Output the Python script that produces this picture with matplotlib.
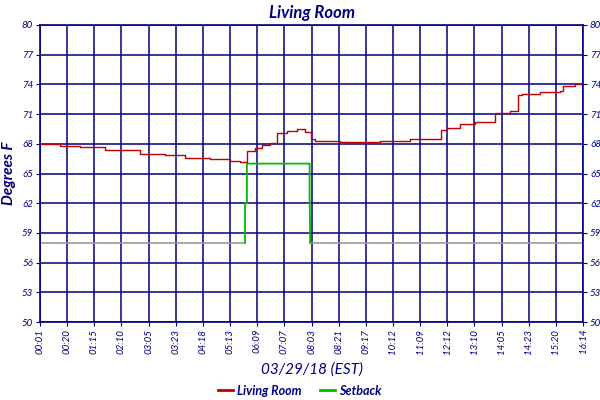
import matplotlib
matplotlib.use("Agg")
import matplotlib.pyplot as plt
from matplotlib.lines import Line2D

tick_labels = ["00:01","00:20","01:15","02:10","03:05","03:23","04:18","05:13","06:09","07:07",
               "08:03","08:21","09:17","10:12","11:09","12:12","13:10","14:05","14:23","15:20","16:14"]
room_x = [0,0.74,1.47,2.39,3.68,4.6,5.34,6.26,7.0,7.37,7.62,7.92,8.18,8.47,8.73,9.1,9.47,9.76,9.98,
          10.13,11.05,12.52,13.63,14.77,14.99,15.47,16.02,16.76,17.31,17.6,17.75,18.42,19.15,19.26,19.7,20]
room_y = [68.0,67.8,67.7,67.4,67.0,66.9,66.6,66.5,66.3,66.2,67.3,67.6,67.9,68.1,69.1,69.3,69.5,69.2,68.5,
          68.3,68.2,68.3,68.5,69.4,69.6,70.0,70.2,71.1,71.3,72.9,73.0,73.2,73.3,73.8,74.0,74.0]
setback_low_x1 = [0,7.55]
setback_low_x2 = [9.95,20]
setback_low = 58
setback_x = [7.55,7.55,7.62,7.62,9.93,9.93,9.95]
setback_y = [58,62,62,66,66,63,58]
yticks = list(range(50,81,3))

navy = "#000080"
font = "Lato"
fig = plt.figure(figsize=(6,4), dpi=100)
ax = fig.add_axes([0.0667,0.195,0.905,0.7425])
ax.set_xlim(0,20); ax.set_ylim(50,80)
ax.set_xticks(range(21)); ax.set_yticks(yticks)
ax.grid(True, color=navy, lw=1.1)
ax.set_axisbelow(True)
for s in ax.spines.values():
    s.set_color(navy); s.set_linewidth(1.2)
ax.plot(setback_low_x1,[setback_low]*2,color="#999999",lw=1.2)
ax.plot(setback_low_x2,[setback_low]*2,color="#999999",lw=1.2)
ax.plot(setback_x,setback_y,color="#00bb00",lw=1.3)
ax.plot(room_x,room_y,color="#c00000",lw=1.0,drawstyle="steps-post")
ax.set_xticklabels(tick_labels,rotation=90,fontsize=7,color=navy,style="italic",family=font)
ax.set_yticklabels([str(v) for v in yticks],fontsize=7,color=navy,style="italic",family=font)
ax.tick_params(axis="both",length=3,color=navy,pad=2)
ax.tick_params(axis="y",right=True,labelright=True)
ax.set_ylabel("Degrees F",fontsize=11,color=navy,style="italic",weight="bold",family=font,labelpad=4)
ax.set_xlabel("03/29/18 (EST)",fontsize=11,color=navy,style="italic",family=font,labelpad=6)
ax.set_title("Living Room",fontsize=12,color=navy,style="italic",weight="bold",family=font,pad=5)
handles=[Line2D([],[],color="#c00000",lw=2),Line2D([],[],color="#00bb00",lw=2)]
leg=fig.legend(handles,["Living Room","Setback"],loc="lower center",bbox_to_anchor=(0.5,-0.02),ncol=2,
               frameon=False,handlelength=1.2,handletextpad=0.3,columnspacing=1.5,
               prop={"family":font,"style":"italic","weight":"bold","size":9})
for t in leg.get_texts(): t.set_color(navy)
fig.savefig("out.png",dpi=100)
